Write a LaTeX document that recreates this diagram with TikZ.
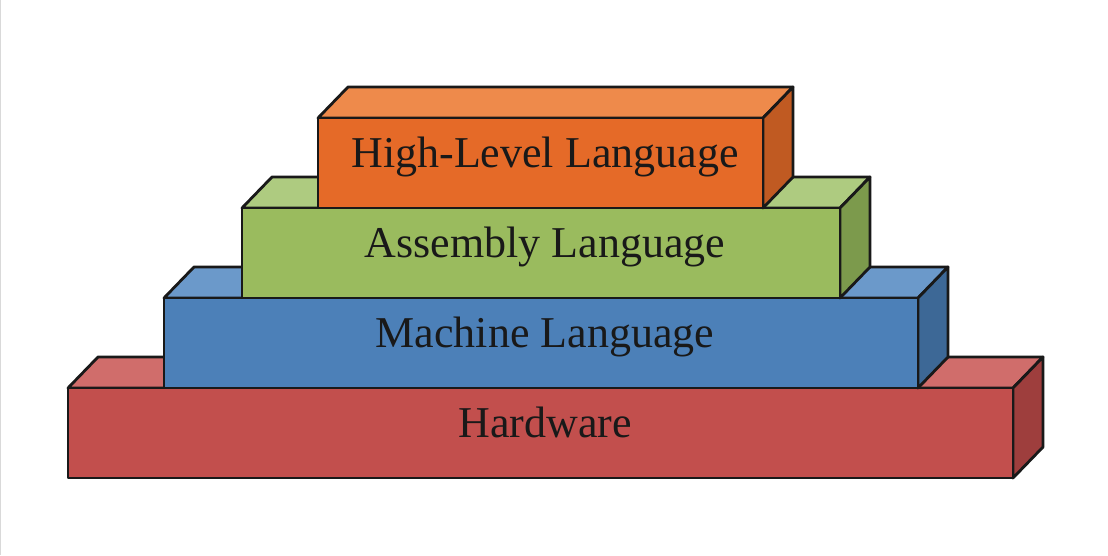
\documentclass[tikz,border=0pt]{standalone}
\usepackage{fontspec}
\setmainfont{Liberation Serif}
\definecolor{hwF}{HTML}{C24F4D}
\definecolor{hwT}{HTML}{D06D6B}
\definecolor{hwS}{HTML}{9E3E3D}
\definecolor{mlF}{HTML}{4C80B8}
\definecolor{mlT}{HTML}{6B99CA}
\definecolor{mlS}{HTML}{3D6896}
\definecolor{alF}{HTML}{9ABB5E}
\definecolor{alT}{HTML}{AECB80}
\definecolor{alS}{HTML}{7C9A4C}
\definecolor{hlF}{HTML}{E56A28}
\definecolor{hlT}{HTML}{EE8A4B}
\definecolor{hlS}{HTML}{C05A22}
\newcommand\layerbox[7]{%
  % #1 left x, #2 right x, #3 top y, #4 bottom y, #5 front, #6 top, #7 side
  \path[boxline,fill=#6] (#1,#3) -- ++(30,-31) -- (#2+30,#3-31) -- (#2,#3) -- cycle;
  \path[boxline,fill=#7] (#2,#3) -- (#2+30,#3-31) -- (#2+30,#4-31) -- (#2,#4) -- cycle;
  \path[boxline,fill=#5] (#1,#3) rectangle (#2,#4);
}
\tikzset{
  boxline/.style={draw=black!90,line width=2.8pt,line join=round},
  label/.style={anchor=base,font=\fontsize{44}{48}\selectfont,text=black!90,inner sep=0pt}
}
\begin{document}
\begin{tikzpicture}[x=1pt,y=-1pt]
\useasboundingbox (0,0) rectangle (1108,555);
\fill[white] (0,0) rectangle (1108,555);
\draw[black!15,line width=1pt] (0.5,0) -- (0.5,555);
\layerbox{68}{1013}{388}{478}{hwF}{hwT}{hwS}
\layerbox{164}{918}{298}{388}{mlF}{mlT}{mlS}
\layerbox{242}{840}{208}{298}{alF}{alT}{alS}
\layerbox{318}{763}{118}{208}{hlF}{hlT}{hlS}
\node[label] (hw) at (545,437) {Hardware};
\node[label] (ml) at (545,347) {Machine Language};
\node[label] (al) at (545,257) {Assembly Language};
\node[label] (hl) at (545,167) {High-Level Language};
\end{tikzpicture}
\end{document}
